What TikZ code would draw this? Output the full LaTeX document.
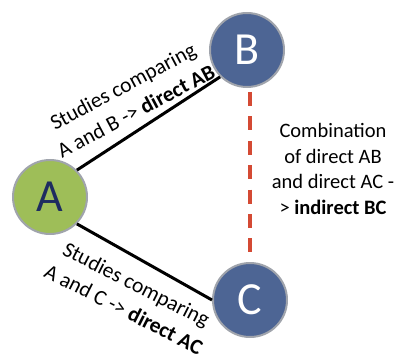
\documentclass[tikz,border=0pt]{standalone}
\usepackage{fontspec}
\setmainfont{Carlito}
\usetikzlibrary{automata,positioning}

\definecolor{nodeblue}{RGB}{77,101,148}
\definecolor{nodegreen}{RGB}{158,190,88}
\definecolor{letterblue}{RGB}{30,44,96}
\definecolor{rimgray}{RGB}{160,164,172}
\definecolor{dashred}{RGB}{212,74,52}

\begin{document}
\begin{tikzpicture}[x=1pt,y=1pt,on grid,line width=3pt,
                    every node/.style={font=\fontsize{20.5}{25.7}\selectfont}]
  \tikzstyle{every state}=[fill=nodeblue,draw=rimgray,line width=2pt,text=white,
                           minimum size=74pt,inner sep=0pt,font=\fontsize{46}{46}\selectfont]
  \tikzstyle{study}=[align=center,font=\fontsize{21.5}{28}\selectfont]
  \useasboundingbox (0,0) rectangle (398,354);

  \node[state,fill=nodegreen,text=letterblue] (A) at (50,157) {A}; % start
  \node[state]  (B) [above right=147pt and 197pt of A] {B};
  \node[state]  (C) [below right=103pt and 200pt of A] {C};
  \node[align=center] (BC) [below right=119pt and 86pt of B]
        {Combination\\of direct AB\\and direct AC -\\> \textbf{indirect BC}}; % indirect

  \path (A.45)  edge node[study,pos=0.47,rotate=28,anchor=south,yshift=5pt]
                     {Studies comparing\\A and B -> \textbf{direct AB}} (B.225)
        (A.-45) edge node[study,pos=0.52,rotate=-27,anchor=north,yshift=-11pt]
                     {Studies comparing\\A and C -> \textbf{direct AC}} (C.west);
  \draw[dashred,line width=4pt,dash pattern=on 14pt off 10.4pt,
        shorten <=4pt,shorten >=9pt] (B.south -| C) -- (C);
\end{tikzpicture}
\end{document}
